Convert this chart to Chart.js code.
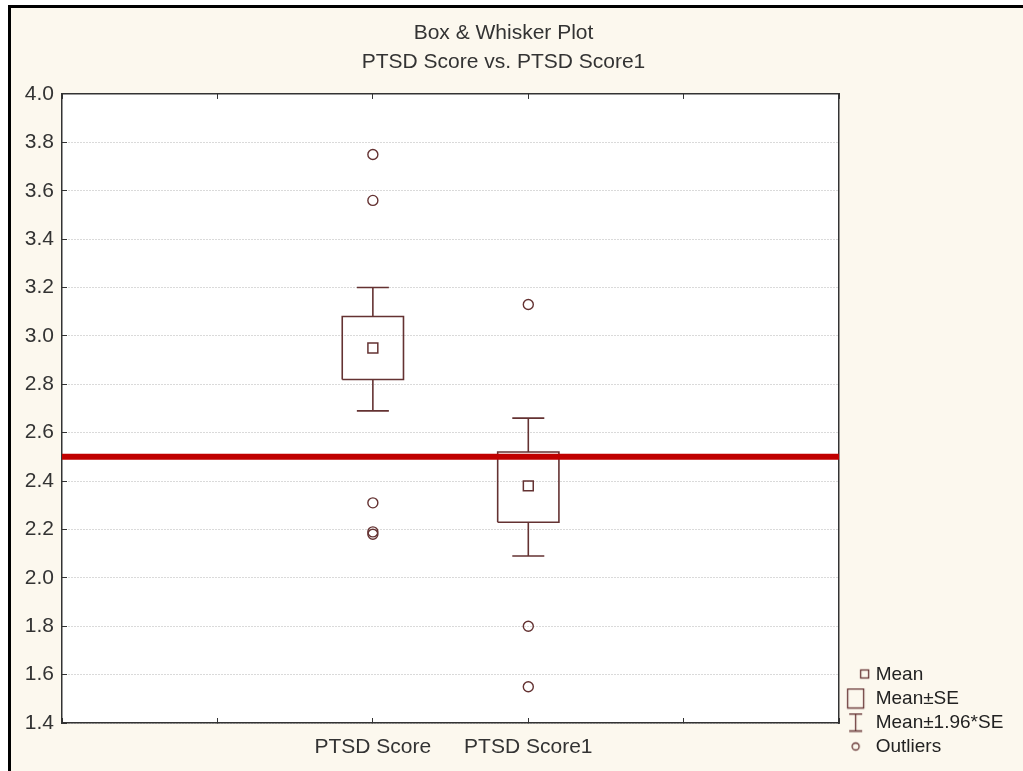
<!DOCTYPE html>
<html lang="en">
<head>
<meta charset="UTF-8">
<title>Box & Whisker Plot</title>
<script src="https://cdn.jsdelivr.net/npm/chart.js@4.4.0/dist/chart.umd.min.js"></script>
<style>
  body { margin: 0; background: #fff; overflow: hidden; }
  #frame { position: absolute; left: 8px; top: 5px; right: 0; bottom: 0; border-left: 3px solid #000; border-top: 3px solid #000; background: #fcf8ee; }
  #wrap { position: absolute; left: 0; top: 0; width: 1023px; height: 771px; }
</style>
</head>
<body>
<div id="frame"></div>
<div id="wrap"><canvas id="boxPlot"></canvas></div>

<script>
// data
const categories = ['PTSD Score', 'PTSD Score1']
const xTickLabels = ['', '', 'PTSD Score', 'PTSD Score1', '', '']
const yMin = 1.4
const yMax = 4.0
const yStep = 0.2
const means = [2.95, 2.38]
const seLow = [2.82, 2.23]
const seHigh = [3.08, 2.52]
const ciLow = [2.69, 2.09]
const ciHigh = [3.20, 2.66]
const outliers = [[3.75, 3.56, 2.31, 2.19, 2.18], [3.13, 1.80, 1.55]]
const cutoff = 2.5
const legendNames = ['Mean', 'Mean±SE', 'Mean±1.96*SE', 'Outliers']

const BOX_COLOR = '#643232'
const TEXT_COLOR = '#333'
const BOX_HALF = 0.197
const CAP_HALF = 0.103

Chart.defaults.font.family = '"Liberation Sans", Arial, sans-serif'

// build the line paths for boxes and whiskers
let boxPts = [], whiskerPts = [], meanPts = [], outlierPts = []
categories.forEach(function (cat, i) {
    const x = xTickLabels.indexOf(cat)
    boxPts.push(
        { x: x - BOX_HALF, y: seLow[i] }, { x: x + BOX_HALF, y: seLow[i] },
        { x: x + BOX_HALF, y: seHigh[i] }, { x: x - BOX_HALF, y: seHigh[i] },
        { x: x - BOX_HALF, y: seLow[i] }, { x: x, y: null })
    whiskerPts.push(
        { x: x, y: seHigh[i] }, { x: x, y: ciHigh[i] }, { x: x, y: null },
        { x: x - CAP_HALF, y: ciHigh[i] }, { x: x + CAP_HALF, y: ciHigh[i] }, { x: x, y: null },
        { x: x, y: seLow[i] }, { x: x, y: ciLow[i] }, { x: x, y: null },
        { x: x - CAP_HALF, y: ciLow[i] }, { x: x + CAP_HALF, y: ciLow[i] }, { x: x, y: null })
    meanPts.push({ x: x, y: means[i] })
    outliers[i].forEach(v => outlierPts.push({ x: x, y: v }))
})
const xLast = xTickLabels.length - 1

// small legend symbols
function icon (w, h, draw) {
    const c = document.createElement('canvas')
    c.width = w
    c.height = h
    const g = c.getContext('2d')
    g.strokeStyle = BOX_COLOR
    g.lineWidth = 1.3
    draw(g)
    return c
}
const legendIcons = [
    icon(30, 20, g => g.strokeRect(20.5, 5.5, 8, 8)),
    icon(22, 22, g => g.strokeRect(3.5, 1.5, 16, 19)),
    icon(22, 20, g => {
        g.beginPath()
        g.moveTo(11.5, 1.5); g.lineTo(11.5, 18.5)
        g.moveTo(5, 1.5); g.lineTo(18, 1.5)
        g.moveTo(5, 18.5); g.lineTo(18, 18.5)
        g.stroke()
    }),
    icon(22, 20, g => { g.beginPath(); g.arc(11.5, 10, 3.5, 0, Math.PI * 2); g.stroke() })
]

const plotBg = {
    id: 'plotBg',
    beforeDraw (chart) {
        const { ctx, chartArea: a } = chart
        ctx.save()
        ctx.fillStyle = '#fff'
        ctx.fillRect(a.left, a.top, a.width, a.height)
        ctx.restore()
    }
}

new Chart('boxPlot', {
    type: 'scatter',
    data: {
        datasets: [
            {
                data: [{ x: 0, y: cutoff }, { x: xLast, y: cutoff }],
                showLine: true, borderColor: '#c00000', borderWidth: 6, pointRadius: 0
            },
            {
                data: meanPts, pointStyle: 'rect', pointRadius: 7,
                borderColor: BOX_COLOR, borderWidth: 1.5, backgroundColor: 'rgba(0,0,0,0)'
            },
            {
                data: outlierPts, pointStyle: 'circle', pointRadius: 5,
                borderColor: BOX_COLOR, borderWidth: 1.4, backgroundColor: 'rgba(0,0,0,0)'
            },
            {
                data: boxPts, showLine: true, spanGaps: false, borderColor: BOX_COLOR,
                borderWidth: 1.6, borderJoinStyle: 'miter', pointRadius: 0
            },
            {
                data: whiskerPts, showLine: true, spanGaps: false, borderColor: BOX_COLOR,
                borderWidth: 1.6, pointRadius: 0
            }
        ]
    },
    options: {
        responsive: true,
        maintainAspectRatio: false,
        animation: false,
        events: [],
        layout: { padding: { left: 0, right: 16, top: 0, bottom: 10 } },
        plugins: {
            tooltip: { enabled: false },
            title: {
                display: true,
                text: ['Box & Whisker Plot', 'PTSD Score vs. PTSD Score1'],
                color: TEXT_COLOR,
                font: { size: 21, weight: 'normal', lineHeight: 1.38 },
                padding: { top: 19, bottom: 17 }
            },
            legend: {
                position: 'right',
                align: 'end',
                onClick: null,
                labels: {
                    usePointStyle: true,
                    pointStyleWidth: 22,
                    padding: 5,
                    color: '#222',
                    font: { size: 19 },
                    generateLabels: () => legendNames.map((t, i) => ({
                        text: t, pointStyle: legendIcons[i], fontColor: '#222',
                        fillStyle: 'rgba(0,0,0,0)', strokeStyle: 'rgba(0,0,0,0)', lineWidth: 0, hidden: false
                    }))
                }
            }
        },
        scales: {
            x: {
                type: 'linear', min: 0, max: xLast,
                afterFit: s => { s.height = 38 },
                ticks: {
                    stepSize: 1, autoSkip: false, maxRotation: 0, padding: 17,
                    color: TEXT_COLOR, font: { size: 21 },
                    callback: v => xTickLabels[v] || ''
                },
                grid: { drawOnChartArea: false, tickLength: -5, tickColor: '#333' },
                border: { color: '#333', width: 1.5 }
            },
            x2: {
                type: 'linear', position: 'top', min: 0, max: xLast,
                afterFit: s => { s.height = 0 },
                ticks: { display: false, stepSize: 1 },
                grid: { drawOnChartArea: false, tickLength: -5, tickColor: '#333' },
                border: { color: '#333', width: 1.5 }
            },
            y: {
                min: yMin, max: yMax,
                afterFit: s => { s.width = 62 },
                ticks: {
                    stepSize: yStep, padding: 13, color: TEXT_COLOR, font: { size: 21 },
                    callback: v => v.toFixed(1)
                },
                grid: { color: '#b4b4b4', lineWidth: 1, tickLength: -5, tickColor: '#333' },
                border: { color: '#333', width: 1.5, dash: [1, 2] }
            },
            y2: {
                position: 'right', min: yMin, max: yMax,
                afterFit: s => { s.width = 0 },
                ticks: { display: false },
                grid: { drawOnChartArea: false, drawTicks: false },
                border: { color: '#333', width: 1.5 }
            }
        }
    },
    plugins: [plotBg]
})
</script>
</body>
</html>
